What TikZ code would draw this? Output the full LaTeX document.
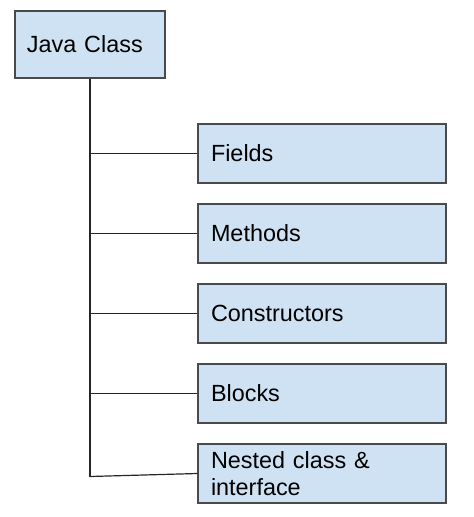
\documentclass[tikz,border=0pt]{standalone}
\usepackage{fontspec}
\setmainfont{Liberation Sans}
\definecolor{boxfill}{HTML}{CFE2F3}
\definecolor{boxline}{HTML}{4A4A4A}

\begin{document}
\begin{tikzpicture}[x=1pt,y=-1pt,
    item/.style={draw=boxline, fill=boxfill, line width=1.2pt, minimum width=248pt, minimum height=59pt, text width=222pt, inner xsep=13pt, align=left, font=\fontsize{23.4}{27}\selectfont},
    root/.style={item, minimum width=150pt, minimum height=67pt, text width=126pt, inner xsep=12pt},
    link/.style={draw=black!85, line width=1.2pt}]
            \useasboundingbox (0,0) rectangle (474,517);
            \node[root] (jclass) at (90,44.5) {Java Class};
            \node[item] (fields) at (322,153.5) {Fields};
            \node[item] (methods) at (322,233.5) {Methods};
            \node[item] (constr) at (322,313.5) {Constructors};
            \node[item] (blocks) at (322,393.5) {Blocks};
            \node[item] (nested) at (322,473.5) {Nested class \&\\interface};
            \coordinate (bottom) at (90,476.5);

            \draw[link] (jclass.south) -- (bottom);
            \draw[link] (fields.west) -- (fields.west -| jclass.south);
            \draw[link] (methods.west) -- (methods.west -| jclass.south);
            \draw[link] (constr.west) -- (constr.west -| jclass.south);
            \draw[link] (blocks.west) -- (blocks.west -| jclass.south);
            \draw[link] (nested.west) -- (bottom);
        \end{tikzpicture}
\end{document}
